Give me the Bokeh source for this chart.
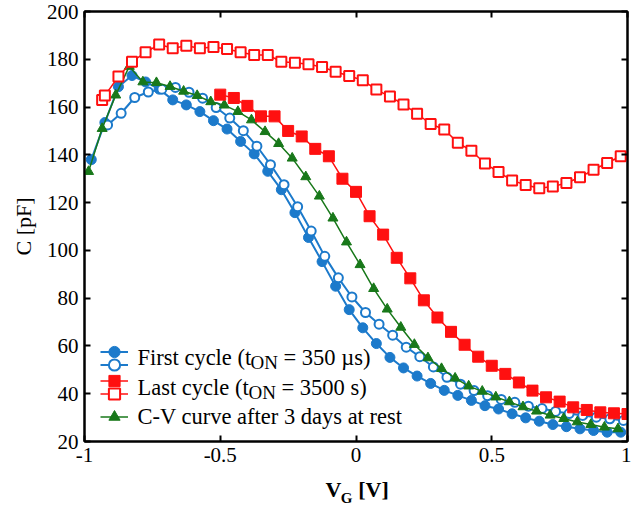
from bokeh.plotting import figure
from bokeh.models import Range1d, LinearAxis, FixedTicker, Legend, LegendItem, Label
from bokeh.embed import file_html
from bokeh.resources import INLINE

# ---------------- data ----------------
bf_x = [-0.975, -0.925, -0.875, -0.825, -0.775, -0.725, -0.675, -0.625, -0.575, -0.525,
        -0.475, -0.425, -0.375, -0.325, -0.275, -0.225, -0.175, -0.125, -0.075, -0.025,
        0.025, 0.075, 0.125, 0.175, 0.225, 0.275, 0.325, 0.375, 0.425, 0.475,
        0.525, 0.575, 0.625, 0.675, 0.725, 0.775, 0.825, 0.875, 0.925, 0.975]
bf_y = [138.0, 153.5, 168.5, 173.2, 170.5, 167.5, 163.0, 160.9, 158.1, 154.3,
        150.8, 145.6, 140.4, 133.1, 125.4, 115.8, 105.4, 95.3, 85.0, 75.2,
        67.6, 61.0, 55.2, 50.8, 47.4, 44.3, 41.4, 39.3, 37.2, 35.0,
        33.6, 31.6, 29.9, 28.5, 27.1, 26.2, 25.3, 24.6, 23.9, 23.9]

bo_x = [-0.915, -0.865, -0.815, -0.765, -0.715, -0.665, -0.615, -0.565, -0.515, -0.465,
        -0.415, -0.365, -0.315, -0.265, -0.215, -0.165, -0.115, -0.065, -0.015, 0.035,
        0.085, 0.135, 0.185, 0.235, 0.285, 0.335, 0.385, 0.435, 0.485, 0.535,
        0.585, 0.635, 0.685, 0.735, 0.785, 0.835, 0.885, 0.935, 0.985]
bo_y = [152.5, 157.4, 164.0, 166.3, 167.5, 168.2, 166.2, 163.7, 159.8, 155.4,
        150.1, 143.6, 135.9, 127.5, 118.3, 108.1, 97.5, 88.5, 80.5, 74.0,
        69.1, 64.5, 59.5, 55.5, 51.2, 46.9, 44.0, 41.3, 39.2, 37.6,
        36.4, 34.8, 33.8, 32.6, 31.7, 30.9, 30.2, 29.5, 28.8]

rf_x = [-0.5, -0.45, -0.4, -0.35, -0.3, -0.25, -0.2, -0.15, -0.1, -0.05,
        0.0, 0.05, 0.1, 0.15, 0.2, 0.25, 0.3, 0.35, 0.4, 0.45,
        0.5, 0.55, 0.6, 0.65, 0.7, 0.75, 0.8, 0.85, 0.9, 0.95, 1.0]
rf_y = [165.2, 163.8, 160.5, 156.1, 156.1, 150.0, 147.7, 142.5, 139.4, 130.0,
        124.5, 114.3, 106.6, 96.9, 88.3, 79.1, 71.9, 65.9, 60.5, 55.5,
        51.7, 48.3, 44.7, 41.3, 38.5, 36.7, 34.3, 33.2, 32.2, 31.8, 31.5]

ro_x = [-0.935, -0.925, -0.875, -0.825, -0.775, -0.725, -0.675, -0.625, -0.575, -0.525,
        -0.475, -0.425, -0.375, -0.325, -0.275, -0.225, -0.175, -0.125, -0.075, -0.025,
        0.025, 0.075, 0.125, 0.175, 0.225, 0.275, 0.325, 0.375, 0.425, 0.475,
        0.525, 0.575, 0.625, 0.675, 0.725, 0.775, 0.825, 0.875, 0.925, 0.975]
ro_y = [163.0, 164.8, 172.8, 179.0, 182.9, 186.2, 184.6, 185.7, 184.6, 185.1,
        184.3, 182.9, 181.8, 181.8, 179.0, 178.5, 177.9, 176.8, 174.8, 173.0,
        171.2, 167.3, 164.4, 161.1, 157.2, 152.9, 150.6, 145.1, 141.7, 136.4,
        132.8, 129.3, 127.4, 126.0, 126.7, 128.2, 130.6, 133.8, 136.6, 139.4]

g_x = [-0.985, -0.935, -0.885, -0.835, -0.785, -0.735, -0.685, -0.635, -0.585, -0.535,
       -0.485, -0.435, -0.385, -0.335, -0.285, -0.235, -0.185, -0.135, -0.085, -0.035,
       0.015, 0.065, 0.115, 0.165, 0.215, 0.265, 0.315, 0.365, 0.415, 0.465,
       0.515, 0.565, 0.615, 0.665, 0.715, 0.765, 0.815, 0.865, 0.915, 0.965]
g_y = [133.0, 151.0, 165.0, 177.0, 170.5, 170.2, 168.6, 166.6, 164.8, 162.2,
       160.8, 158.1, 154.6, 149.7, 144.7, 138.6, 130.8, 122.7, 113.5, 103.5,
       94.0, 84.0, 75.4, 67.8, 60.6, 55.0, 50.5, 46.5, 43.2, 41.0,
       38.6, 36.6, 34.5, 32.7, 31.0, 29.6, 28.2, 27.1, 26.0, 25.3]

x_ticks = [-1, -0.5, 0, 0.5, 1]
x_tick_labels = ["-1", "-0.5", "0", "0.5", "1"]
y_ticks = [20, 40, 60, 80, 100, 120, 140, 160, 180, 200]

legend_rows = [
    ("First cycle (t", "ON", "= 350 \u00b5s)"),
    ("Last cycle (t", "ON", "= 3500 s)"),
    ("C-V curve after 3 days at rest", "", ""),
]
x_title_main = {249: "V", 289: "[V]"}   # positions in pixels across the frame
x_title_sub = {262: "G"}

# ---------------- styling ----------------
FONT = "Liberation Serif"
BLUE = "#1c7acb"
RED = "#ff1010"
GREEN = "#18781a"

p = figure(width=631, height=508, output_backend="svg", toolbar_location=None,
           x_range=Range1d(-1, 1), y_range=Range1d(20, 200),
           min_border_left=84, min_border_right=4, min_border_top=11, min_border_bottom=60,
           x_axis_location=None, y_axis_location=None)
p.extra_x_ranges = {"px": Range1d(0, 543)}
p.xgrid.visible = False
p.ygrid.visible = False
p.outline_line_color = "black"
p.outline_line_width = 2
p.background_fill_color = "white"
p.border_fill_color = "white"


def style_axis(ax, ticks, show_labels):
    ax.ticker = FixedTicker(ticks=ticks)
    ax.axis_line_color = "black"
    ax.axis_line_width = 2
    ax.major_tick_line_color = "black"
    ax.major_tick_line_width = 2
    ax.major_tick_in = 6
    ax.major_tick_out = 0
    ax.minor_tick_line_color = None
    ax.major_label_text_font = FONT
    ax.major_label_text_color = "black"
    if show_labels:
        ax.major_label_text_font_size = "21px"
        ax.major_label_standoff = 6
    else:
        ax.major_label_overrides = {t: "" for t in ticks}
        ax.major_label_text_font_size = "1px"
        ax.major_label_standoff = 0


bottom = LinearAxis()
style_axis(bottom, x_ticks, True)
bottom.major_label_overrides = {t: s for t, s in zip(x_ticks, x_tick_labels)}
p.add_layout(bottom, "below")


def title_axis(labels, size, standoff):
    ax = LinearAxis(x_range_name="px", ticker=FixedTicker(ticks=list(labels.keys())))
    ax.major_label_overrides = dict(labels)
    ax.axis_line_color = None
    ax.major_tick_line_color = None
    ax.minor_tick_line_color = None
    ax.major_label_text_font = FONT
    ax.major_label_text_font_size = size
    ax.major_label_text_font_style = "bold"
    ax.major_label_text_color = "black"
    ax.major_label_standoff = standoff
    p.add_layout(ax, "below")


title_axis(x_title_main, "22px", 6)
title_axis(x_title_sub, "15px", -21)

left = LinearAxis(axis_label="C [pF]")
style_axis(left, y_ticks, True)
left.axis_label_text_font = FONT
left.axis_label_text_font_size = "22px"
left.axis_label_text_font_style = "normal"
left.axis_label_text_color = "black"
left.axis_label_standoff = 8
p.add_layout(left, "left")

top = LinearAxis()
style_axis(top, x_ticks, False)
p.add_layout(top, "above")
right = LinearAxis()
style_axis(right, y_ticks, False)
p.add_layout(right, "right")

# ---------------- series ----------------
l_bf = p.line(bf_x, bf_y, line_color=BLUE, line_width=2)
s_bf = p.scatter(bf_x, bf_y, marker="circle", size=10, fill_color=BLUE, line_color=BLUE)
l_bo = p.line(bo_x, bo_y, line_color=BLUE, line_width=2)
s_bo = p.scatter(bo_x, bo_y, marker="circle", size=9, fill_color="white",
                 line_color=BLUE, line_width=2)
l_g = p.line(g_x, g_y, line_color=GREEN, line_width=1.5)
s_g = p.scatter(g_x, g_y, marker="triangle", size=10, fill_color=GREEN, line_color=GREEN)
l_rf = p.line(rf_x, rf_y, line_color=RED, line_width=1.5)
s_rf = p.scatter(rf_x, rf_y, marker="square", size=11, fill_color=RED, line_color=RED)
l_ro = p.line(ro_x, ro_y, line_color=RED, line_width=1.5)
s_ro = p.scatter(ro_x, ro_y, marker="square", size=10, fill_color="white",
                 line_color=RED, line_width=2)


# ---------------- legend (glyph samples) ----------------
def make_legend(items, loc):
    lg = Legend(items=items, location=loc, orientation="vertical",
                glyph_width=28, glyph_height=29, label_width=0, label_height=0,
                label_standoff=0, label_text_font_size="1px", spacing=0,
                padding=0, margin=0, border_line_color=None,
                background_fill_alpha=0)
    p.add_layout(lg, "center")


make_legend([LegendItem(label=" ", renderers=[l_bf, s_bf]),
             LegendItem(label=" ", renderers=[l_rf, s_rf])], (16, 46))
make_legend([LegendItem(label=" ", renderers=[l_bo, s_bo]),
             LegendItem(label=" ", renderers=[l_ro, s_ro])], (16, 33))
make_legend([LegendItem(label=" ", renderers=[l_g, s_g])], (16, 10))

# legend texts (with subscripts)
row_sy = [84, 54, 25]
main_w = [113, 111, 0]
for (a, sub, b), sy, w in zip(legend_rows, row_sy, main_w):
    p.add_layout(Label(x=53, y=sy, x_units="screen", y_units="screen", text=a,
                       text_font=FONT, text_font_size="22.5px", text_baseline="middle",
                       text_align="left", text_color="black"))
    if sub:
        p.add_layout(Label(x=53 + w, y=sy - 5, x_units="screen", y_units="screen", text=sub,
                           text_font=FONT, text_font_size="19px", text_baseline="middle",
                           text_align="left", text_color="black"))
        p.add_layout(Label(x=53 + w + 27 + 6, y=sy, x_units="screen", y_units="screen", text=b,
                           text_font=FONT, text_font_size="22.5px", text_baseline="middle",
                           text_align="left", text_color="black"))

open("out.html", "w").write(file_html(p, INLINE))
